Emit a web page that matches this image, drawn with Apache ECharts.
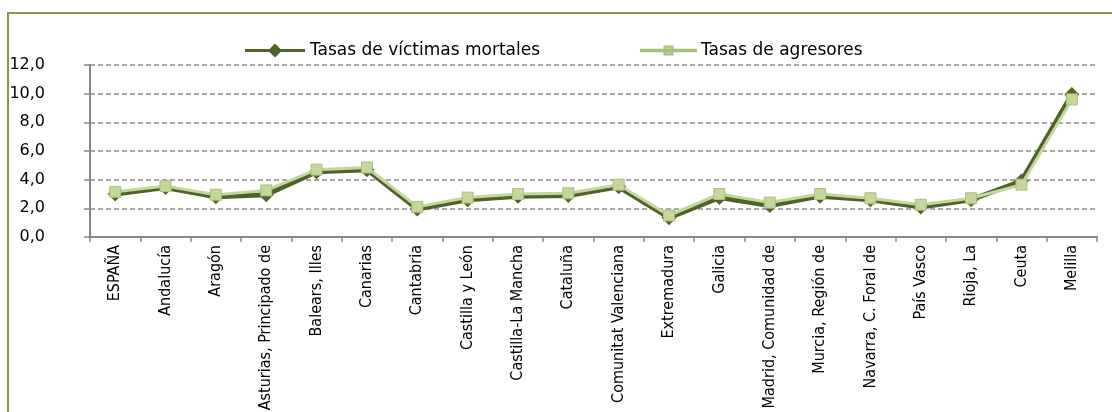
<!DOCTYPE html>
<html>
<head>
<meta charset="utf-8">
<script src="https://cdn.jsdelivr.net/npm/echarts@6/dist/echarts.min.js"></script>
<style>
  html, body { margin: 0; padding: 0; background: #fff; }
  #chart { width: 1112px; height: 412px; }
</style>
</head>
<body>
<div id="chart"></div>
<script>
var categories = ["ESPAÑA", "Andalucía", "Aragón", "Asturias, Principado de", "Balears, Illes",
  "Canarias", "Cantabria", "Castilla y León", "Castilla-La Mancha", "Cataluña",
  "Comunitat Valenciana", "Extremadura", "Galicia", "Madrid, Comunidad de", "Murcia, Región de",
  "Navarra, C. Foral de", "País Vasco", "Rioja, La", "Ceuta", "Melilla"];

var victimas = [3.0, 3.45, 2.8, 2.95, 4.55, 4.7, 1.95, 2.6, 2.85, 2.9, 3.5, 1.35, 2.75, 2.2, 2.85, 2.6, 2.1, 2.6, 3.9, 9.95];
var agresores = [3.15, 3.55, 2.95, 3.25, 4.7, 4.85, 2.1, 2.75, 3.0, 3.05, 3.65, 1.5, 3.0, 2.4, 3.0, 2.7, 2.25, 2.7, 3.65, 9.6];

var yTicks = [0, 2, 4, 6, 8, 10, 12];

// legend icons: line with marker in the middle
var iconVictimas = "path://M0,5.5L60,5.5L60,8.5L0,8.5Z M30,0L37,7L30,14L23,7Z";
var iconAgresores = "path://M0,3.2L55,3.2L55,4.8L0,4.8Z M23.5,0L31.5,0L31.5,8L23.5,8Z";

var legendText = { fontFamily: "DejaVu Sans", fontSize: 17, color: "#000" };

var chart = echarts.init(document.getElementById("chart"));

var option = {
  animation: false,
  graphic: [{
    type: "rect",
    shape: { x: 8, y: 13, width: 1200, height: 500 },
    style: { fill: null, stroke: "#7f9a48", lineWidth: 2 },
    silent: true
  }],
  legend: [
    {
      left: 240, top: 37, itemWidth: 60, itemHeight: 14, itemGap: 5,
      textStyle: legendText,
      data: [{ name: "Tasas de víctimas mortales", icon: iconVictimas }]
    },
    {
      left: 635, top: 37, itemWidth: 55, itemHeight: 8, itemGap: 5,
      textStyle: legendText,
      data: [{ name: "Tasas de agresores", icon: iconAgresores }]
    }
  ],
  grid: { left: 90, right: 15, top: 65, bottom: 175, containLabel: false, outerBoundsMode: "none" },
  xAxis: {
    type: "category",
    data: categories,
    boundaryGap: true,
    axisLine: { lineStyle: { color: "#868686", width: 2 } },
    axisTick: { show: true, length: 5, lineStyle: { color: "#868686", width: 1.5 } },
    axisLabel: {
      rotate: 90,
      interval: 0,
      margin: 8,
      fontFamily: "DejaVu Sans Condensed, Liberation Sans Narrow, Liberation Sans",
      fontSize: 16,
      color: "#000"
    }
  },
  yAxis: {
    type: "value",
    min: yTicks[0],
    max: yTicks[yTicks.length - 1],
    interval: 2,
    axisLine: { show: true, lineStyle: { color: "#868686", width: 2 } },
    axisTick: { show: true, length: 6, lineStyle: { color: "#868686", width: 1.5 } },
    axisLabel: {
      margin: 45,
      align: "right",
      fontFamily: "DejaVu Sans",
      fontSize: 16,
      color: "#000",
      formatter: function (v) { return v.toFixed(1).replace(".", ","); }
    },
    splitLine: { lineStyle: { color: "#8c8c8c", type: [5, 3], width: 1.5 } }
  },
  series: [
    {
      name: "Tasas de víctimas mortales",
      type: "line",
      data: victimas,
      symbol: "diamond",
      symbolSize: 15,
      z: 2,
      lineStyle: { color: "#4f6228", width: 5 },
      itemStyle: { color: "#4f6228" }
    },
    {
      name: "Tasas de agresores",
      type: "line",
      data: agresores,
      symbol: "rect",
      symbolSize: 11,
      z: 3,
      lineStyle: { color: "#c3d69b", width: 3 },
      itemStyle: { color: "#c3d69b", borderColor: "#a9c17a", borderWidth: 1 }
    }
  ]
};

chart.setOption(option);
</script>
</body>
</html>
